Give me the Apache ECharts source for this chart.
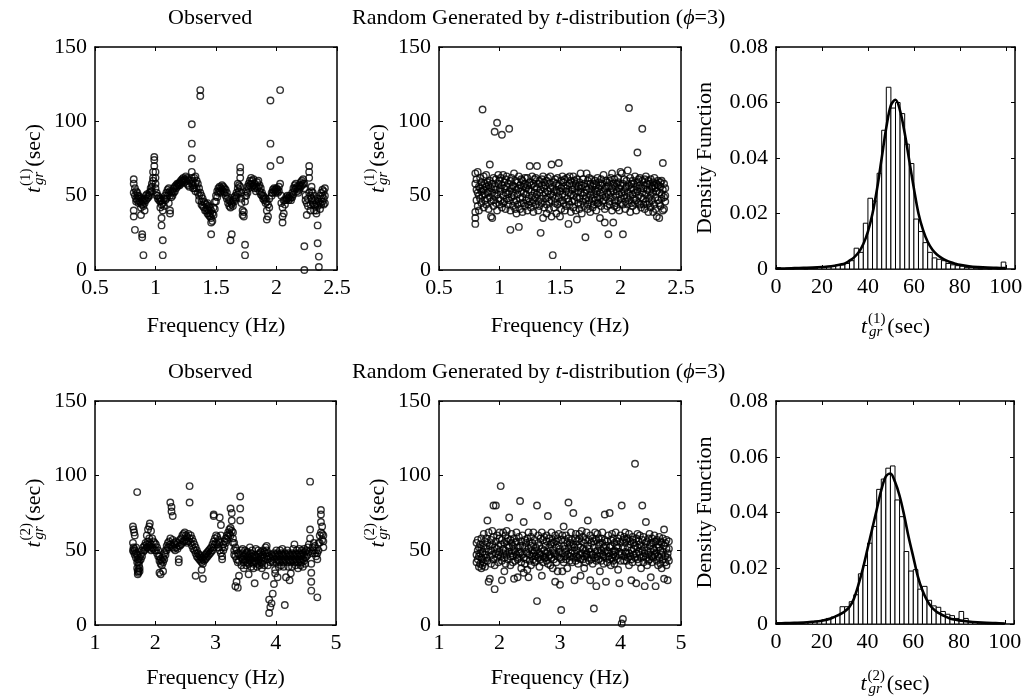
<!DOCTYPE html>
<html><head><meta charset="utf-8">
<script src="https://cdn.jsdelivr.net/npm/echarts@6/dist/echarts.min.js"></script>
<style>html,body{margin:0;padding:0;background:#fff}#c{width:1030px;height:698px}</style>
</head><body><div id="c"></div>
<script>
// ---------------- DATA ----------------
// Observed t_gr^(1) vs frequency: rows are [frequency, value, value, ...]
const observed1 = [
[0.82,61,58,52,40,36],[0.83,55,50,27],[0.84,53,48,46],[0.85,52,50,47],[0.86,50,48,45],[0.87,49,46],
[0.88,48,45,42,37],[0.89,47,44,24,22],[0.90,46,43,10],[0.91,48,45,40],[0.92,50,47],[0.93,51,48],
[0.94,50,49],[0.95,52,50],[0.96,53,55],[0.97,58,56,53],[0.98,62,66,60],[0.99,76,74,70],
[1.00,66,62,58,55],[1.01,52,50],[1.02,50,48],[1.03,49,47],[1.04,48,46,42],[1.05,47,44,35,30],
[1.06,45,40,20,10],[1.07,48,43],[1.08,50,47],[1.09,52,48],[1.10,54,50],[1.11,55,52,45],
[1.12,53,50,40,38],[1.13,52,49],[1.14,53,50],[1.15,55,52],[1.16,56,53],[1.17,57,55],[1.18,58,56],
[1.19,58,57],[1.20,59,57],[1.21,60,58],[1.22,61,59],[1.23,62,60],[1.24,61,59],[1.25,63,60],
[1.26,62,58],[1.27,61,57],[1.28,60,56],[1.30,98,85,75,66,62,58],[1.31,60,57,55],[1.32,62,55],
[1.33,63,58,53],[1.34,60,55],[1.35,58,52],[1.36,55,50,47],[1.37,121,117,52],[1.38,50,46,44],
[1.39,48,43],[1.40,46,42],[1.41,45,40],[1.42,44,40],[1.43,45,41,38],[1.44,43,40,37],[1.45,42,38,36],
[1.46,40,35,32,24],[1.47,38,33],[1.48,42,37],[1.49,46,41],[1.50,50,46],[1.51,53,49],[1.52,55,52],
[1.53,56,53],[1.54,55,52],[1.55,57,54],[1.56,56,53],[1.57,55,52],[1.58,54,50],[1.59,52,48],
[1.60,49,45],[1.61,47,43],[1.62,46,42,20],[1.63,45,44,24],[1.64,47,43],[1.65,49,46],[1.66,50,48],
[1.67,52,49],[1.68,55,51,58],[1.69,57,53],[1.70,69,66,62,56],[1.71,52,48,45],[1.72,40,37],
[1.73,39,36],[1.74,17,10,50,46],[1.75,53,50],[1.76,56,52],[1.77,58,55],[1.78,60,57],[1.79,62,58],
[1.80,60,56],[1.81,61,57],[1.82,58,55],[1.83,56,53],[1.84,59,55],[1.85,60,56],[1.86,57,53],
[1.87,55,51],[1.88,52,50],[1.89,50,48],[1.90,49,47],[1.91,48,45],[1.92,46,40,34],[1.93,44,36],
[1.94,48,42],[1.95,114,85,70],[1.96,52,50],[1.97,54,52],[1.98,55,53],[1.99,54,52],[2.00,55,53],
[2.01,54,52],[2.02,56,53],[2.03,121,74,58],[2.04,50,45],[2.05,42,36,32],[2.06,38,47],[2.07,47,44],
[2.08,49,47],[2.09,50,48],[2.10,49,47],[2.11,50,48],[2.12,49,47],[2.13,52,49],[2.14,55,51],
[2.15,57,54],[2.16,58,55],[2.17,56,53],[2.18,55,52],[2.19,57,54],[2.20,59,56],[2.21,60,57],
[2.22,61,58],[2.23,58,55,16,0],[2.24,50,47],[2.25,45,37],[2.26,48,43],[2.27,70,66,62,52],
[2.28,50,44,40],[2.29,56,53,48],[2.30,52,47,45],[2.31,50,44,40],[2.32,47,43],[2.33,45,40,38],
[2.34,48,43,30,18],[2.35,46,9,2],[2.36,50,45,41],[2.37,52,48,44],[2.38,54,50,46],[2.39,53,48,44],
[2.40,55,50,45]
];
// Random (t-distribution) t_gr^(1)
const random1 = [
[0.80,58,65,39,35,31],[0.81,54,47,61],[0.82,66,52,43],[0.83,56,40,50],[0.84,48,62,55],[0.85,53,45,59],
[0.86,108,57,50],[0.87,63,42,54],[0.88,47,58,51],[0.89,64,44,56],[0.90,52,59,48],[0.91,57,41,53],
[0.92,71,49,60],[0.93,55,36,46],[0.94,35,52,58],[0.95,62,47,43],[0.96,93,56,50],[0.97,54,45,61],
[0.98,99,51,40],[0.99,58,48,64],[1.00,44,55,60],[1.01,53,62,47],[1.02,91,57,42],[1.03,50,64,45],
[1.04,46,55,59],[1.05,61,52,41],[1.06,56,48,63],[1.07,44,58,51],[1.08,95,53,47],[1.09,27,60,40],
[1.10,49,55,62],[1.11,57,43,52],[1.12,65,50,46],[1.13,41,56,60],[1.14,54,47,38],[1.15,59,51,44],
[1.16,29,63,55],[1.17,48,57,41],[1.18,53,45,61],[1.19,60,49,39],[1.20,45,56,52],[1.21,62,43,58],
[1.22,51,47,55],[1.23,57,40,62],[1.24,48,54,44],[1.25,70,59,46],[1.26,53,42,57],[1.27,63,50,45],
[1.28,47,58,39],[1.29,56,52,61],[1.30,44,62,49],[1.31,70,55,51],[1.32,58,46,40],[1.33,52,60,43],
[1.34,25,54,48],[1.35,61,45,57],[1.36,35,50,63],[1.37,55,42,59],[1.38,48,57,52],[1.39,60,44,38],
[1.40,53,49,62],[1.41,46,58,41],[1.42,63,51,55],[1.43,71,47,36],[1.44,10,56,50],[1.45,59,42,53],
[1.46,48,61,45],[1.47,54,38,58],[1.48,44,52,62],[1.49,72,57,49],[1.50,36,53,46],[1.51,60,41,55],
[1.52,47,63,51],[1.53,56,45,59],[1.54,50,61,40],[1.55,43,55,53],[1.56,62,48,57],[1.57,31,52,46],
[1.58,58,44,63],[1.59,51,60,39],[1.60,46,54,57],[1.61,63,50,42],[1.62,55,47,60],[1.63,40,58,52],
[1.64,34,61,49],[1.65,53,45,56],[1.66,48,59,41],[1.67,65,52,44],[1.68,57,38,55],[1.69,46,61,50],
[1.70,52,43,58],[1.71,22,56,48],[1.72,65,49,54],[1.73,44,60,41],[1.74,55,47,62],[1.75,50,58,39],
[1.76,61,45,53],[1.77,42,56,48],[1.78,58,51,44],[1.79,47,60,54],[1.80,53,40,57],[1.81,62,49,45],
[1.82,45,55,59],[1.83,35,52,48],[1.84,57,43,61],[1.85,50,58,46],[1.86,64,47,53],[1.87,32,55,41],
[1.88,56,49,60],[1.89,43,59,52],[1.90,24,51,57],[1.91,60,46,44],[1.92,52,62,49],[1.93,65,40,55],
[1.94,32,53,58],[1.95,47,61,43],[1.96,56,50,45],[1.97,42,58,53],[1.98,59,47,62],[1.99,51,55,40],
[2.00,66,45,57],[2.01,65,52,48],[2.02,24,58,44],[2.03,53,61,50],[2.04,46,55,41],[2.05,60,49,56],
[2.06,67,44,52],[2.07,109,57,47],[2.08,50,62,39],[2.09,55,45,58],[2.10,43,60,51],[2.11,58,48,54],
[2.12,52,63,45],[2.13,47,56,40],[2.14,79,53,59],[2.15,61,45,50],[2.16,44,57,62],[2.17,55,49,42],
[2.18,95,60,52],[2.19,48,55,44],[2.20,57,41,61],[2.21,51,63,46],[2.22,44,54,58],[2.23,60,48,39],
[2.24,53,58,45],[2.25,42,61,50],[2.26,56,47,55],[2.27,39,59,52],[2.28,62,44,57],[2.29,49,55,41],
[2.30,36,58,53],[2.31,57,47,60],[2.32,35,52,45],[2.33,59,43,56],[2.34,48,60,51],[2.35,72,54,40],
[2.36,41,49,58],[2.37,50,46,55]
];
// Observed t_gr^(2)
const observed2 = [
[1.63,66,55,50],[1.64,64,52,49],[1.65,62,51],[1.66,60,50,47],[1.68,52,48,45],[1.70,89,47,42,38],
[1.71,44,36,34],[1.72,42,37,35],[1.73,45,40],[1.74,43,38,36],[1.76,47,44],[1.78,50,46],[1.80,52,49],
[1.82,53,50],[1.84,55,51],[1.86,54,52,60],[1.88,56,52,64],[1.90,66,58,53],[1.91,68,55,51],
[1.93,63,54,50],[1.95,58,52],[1.97,56,51],[1.99,55,50],[2.01,54,50],[2.03,52,48],[2.05,50,46],
[2.07,46,43,35],[2.09,44,41,34],[2.11,43,40],[2.13,45,42,36],[2.15,48,44],[2.17,50,47],[2.19,53,50],
[2.21,55,52],[2.23,56,52],[2.25,82,58,54],[2.27,79,76,53],[2.29,73,57,52],[2.31,55,51],[2.33,54,50],
[2.35,56,52],[2.37,55,51],[2.39,44,42,53],[2.41,57,53],[2.43,58,54],[2.45,60,55],[2.47,61,56],
[2.49,62,57],[2.51,60,56],[2.53,59,55],[2.55,61,56],[2.57,93,82,58],[2.59,60,55],[2.61,58,53],
[2.63,56,51],[2.65,54,50],[2.67,52,48,33],[2.69,50,46],[2.71,48,45],[2.73,47,44],[2.75,46,43],
[2.77,45,42,37],[2.79,44,41,31],[2.81,46,43],[2.83,47,44],[2.85,48,45],[2.87,49,46],[2.89,50,47],
[2.91,51,48],[2.93,52,49],[2.95,54,50],[2.97,74,73,56,52],[2.99,58,54],[3.01,60,55],[3.03,59,54],
[3.05,57,52],[3.07,72,55,50],[3.09,67,60,48],[3.11,44,46,52],[3.13,50,54],[3.15,52,56],[3.17,55,58],
[3.19,57,60],[3.21,59,62],[3.23,61,64],[3.25,78,65,60],[3.27,75,70,63],[3.29,62,58,55],[3.31,55,50,47],
[3.33,52,46,26],[3.35,50,44,29],[3.37,48,42,25],[3.39,47,43,33],[3.41,86,78,70],[3.43,50,45,40],
[3.45,48,44,51],[3.47,46,42,38],[3.49,47,43,50],[3.51,48,44,40],[3.53,46,42,49],[3.55,45,41,34],
[3.57,47,43,52],[3.59,48,44,39],[3.61,46,42,50],[3.63,45,41,38],[3.65,47,43,28],[3.67,46,42,51],
[3.69,45,41,39],[3.71,47,43,50],[3.73,48,44,40],[3.75,46,42,49],[3.77,45,41,38],[3.79,47,43,50],
[3.81,49,45,40],[3.83,52,48,33],[3.85,50,46,53],[3.87,48,44,40],[3.89,46,8,17],[3.91,45,12,42],
[3.93,47,14.5,43],[3.95,46,21,42],[3.97,48,27.5,44],[3.99,47,34.6,37],[4.01,46,42,50],[4.03,48,44,32],
[4.05,47,43,39],[4.07,46,42,50],[4.09,48,44,40],[4.11,47,43,51],[4.13,46,42,39],[4.15,48,13.4,44],
[4.17,47,32,43],[4.19,46,42,50],[4.21,48,44,39],[4.23,47,43,30],[4.25,46,42,34.6],[4.27,48,44,39],
[4.29,47,43,51],[4.31,54,46,42],[4.33,48,44,40],[4.35,47,43,50],[4.37,46,42,38],[4.39,48,44,51],
[4.41,47,43,40],[4.43,46,42,50],[4.45,48,44,39],[4.47,47,43,51],[4.49,49,45,41],[4.51,50,46],
[4.53,52,47],[4.55,54,49],[4.57,96,64,58],[4.59,41,35,29,23],[4.61,52,48],[4.63,55,50],[4.65,53,48],
[4.67,50,46],[4.69,48,44,18.5],[4.71,55,50],[4.73,60,55],[4.75,77,74,69,62],[4.77,66,61,57],
[4.79,60,56,52]
];
// Random (t-distribution) t_gr^(2)
const random2 = [
[1.62,47,55,42],[1.64,57,50,44],[1.66,52,39,46],[1.68,41,48,54],[1.70,38,45,51,58],[1.72,40,49,44],
[1.74,53,42,61],[1.76,47,56,39],[1.78,45,51,58],[1.80,70,43,55],[1.82,29,49,62],[1.84,31,53,46],
[1.86,57,41,50],[1.88,63,47,54],[1.90,80,44,59],[1.92,24,52,40],[1.94,80,48,56],[1.96,45,60,51],
[1.98,53,42,47],[2.00,58,49,62],[2.02,93,46,54],[2.04,30,57,43],[2.06,51,62,48],[2.08,36,45,55],
[2.10,60,50,41],[2.12,47,56,63],[2.14,53,44,58],[2.16,72,49,52],[2.18,40,57,46],[2.20,55,48,61],
[2.22,46,53,42],[2.24,31,58,50],[2.26,49,43,55],[2.28,56,47,62],[2.30,32,52,44],[2.32,45,59,49],
[2.34,83,48,53],[2.36,56,42,38],[2.38,47,53,60],[2.40,69,35,45],[2.42,52,57,41],[2.44,44,49,55],
[2.46,58,37,48],[2.48,32,51,62],[2.50,47,56,43],[2.52,53,40,59],[2.54,46,55,50],[2.56,62,44,48],
[2.58,49,57,42],[2.60,43,52,46],[2.62,80,16,50],[2.64,55,45,60],[2.66,48,39,53],[2.68,44,58,47],
[2.70,33,51,62],[2.72,57,46,42],[2.74,50,59,45],[2.76,45,53,48],[2.78,60,43,56],[2.80,73,49,41],
[2.82,52,58,46],[2.84,47,40,54],[2.86,55,62,45],[2.88,38,50,57],[2.90,44,55,48],[2.92,29,47,60],
[2.94,56,42,52],[2.96,36,58,46],[2.98,49,53,61],[3.00,27,45,51],[3.02,10,57,44],[3.04,60,48,36],
[3.06,66,42,53],[3.08,51,57,46],[3.10,44,49,60],[3.12,55,38,47],[3.14,82,52,58],[3.16,46,55,43],
[3.18,53,48,62],[3.20,42,57,50],[3.22,75,45,54],[3.24,30,52,48],[3.26,58,43,61],[3.28,50,56,46],
[3.30,45,53,41],[3.32,61,47,58],[3.34,33,52,44],[3.36,56,48,63],[3.38,44,59,51],[3.40,38,46,55],
[3.42,57,50,42],[3.44,48,62,47],[3.46,70,53,45],[3.48,43,57,51],[3.50,30,49,60],[3.52,55,44,47],
[3.54,47,58,41],[3.56,11,52,56],[3.58,62,45,49],[3.60,26,57,43],[3.62,50,61,46],[3.64,44,53,58],
[3.66,36,48,55],[3.68,58,43,50],[3.70,47,55,62],[3.72,52,41,46],[3.74,74,49,57],[3.76,29,45,53],
[3.78,56,50,42],[3.80,48,60,46],[3.82,75,44,52],[3.84,53,57,40],[3.86,45,49,61],[3.88,58,47,43],
[3.90,41,55,50],[3.92,49,62,46],[3.94,56,44,53],[3.96,37,52,58],[3.98,28,47,49],[4.00,60,43,55],
[4.02,80,1,48],[4.04,52,4,57],[4.06,46,59,43],[4.08,55,49,62],[4.10,43,57,48],[4.12,58,45,52],
[4.14,48,61,40],[4.16,54,46,56],[4.18,30,50,44],[4.20,57,42,59],[4.22,47,55,51],[4.24,108,45,53],
[4.26,28,58,48],[4.28,52,44,61],[4.30,49,56,42],[4.32,60,47,54],[4.34,45,53,38],[4.36,80,50,57],
[4.38,42,59,46],[4.40,26,52,48],[4.42,69,45,55],[4.44,56,40,50],[4.46,47,58,43],[4.48,53,44,61],
[4.50,32,49,55],[4.52,58,46,42],[4.54,45,55,51],[4.56,50,60,47],[4.58,26,48,56],[4.60,57,43,52],
[4.62,46,54,40],[4.64,52,59,45],[4.66,41,50,56],[4.68,55,47,38],[4.70,49,58,44],[4.72,64,31,53],
[4.74,46,55,42],[4.76,51,40,57],[4.78,30,48,45],[4.80,56,43,51]
];
// Histogram bins (left edge), width 2 sec
const binStarts = [0,2,4,6,8,10,12,14,16,18,20,22,24,26,28,30,32,34,36,38,40,42,44,46,48,50,52,54,56,58,
  60,62,64,66,68,70,72,74,76,78,80,82,84,86,88,90,92,94,96,98];
const binWidth = 2;
const hist1 = [0.0005,0,0.0003,0,0.0003,0.0005,0,0.0005,0.0003,0.0005,
  0.0005,0.0008,0.001,0.0015,0.0015,0.002,0.003,0.0075,0.006,0.0165,
  0.0255,0.0245,0.0345,0.05,0.0655,0.058,0.06,0.056,0.045,0.038,
  0.018,0.0135,0.0095,0.006,0.004,0.0035,0.003,0.002,0.0015,0.0012,
  0.001,0.0005,0.0005,0.0003,0,0.0003,0,0.0003,0,0.0025];
const hist2 = [0.0005,0.0003,0.0003,0.0003,0.0003,0.0003,0.0005,0.0005,0.0008,0.001,
  0.0015,0.002,0.0025,0.003,0.0062,0.0062,0.008,0.0105,0.018,0.021,
  0.029,0.035,0.0483,0.052,0.0559,0.0567,0.0445,0.0385,0.026,0.019,
  0.0195,0.0125,0.0135,0.0085,0.0065,0.006,0.0045,0.0035,0.003,0.002,
  0.0045,0.002,0.0008,0.0005,0.0003,0.0003,0.0002,0.0002,0.0002,0.0002];
// Fitted density curves
const curveX = [0,4,8,12,16,20,24,28,30,32,34,36,38,40,42,44,46,48,50,52,54,56,58,60,62,64,66,68,70,
  72,74,76,78,80,84,88,92,96,100];
const curve1 = [0.0002,0.0002,0.0003,0.0004,0.0005,0.0007,0.001,0.0016,0.002,0.003,0.0042,0.006,0.009,0.0135,
  0.02,0.029,0.04,0.051,0.059,0.061,0.057,0.049,0.039,0.029,0.02,0.014,0.0098,0.007,0.0052,
  0.004,0.0031,0.0024,0.0019,0.0015,0.001,0.0007,0.0005,0.0004,0.0003];
const curve2 = [0.0002,0.0003,0.0004,0.0005,0.0008,0.0012,0.002,0.0035,0.0045,0.006,0.009,0.014,0.02,0.027,
  0.034,0.041,0.048,0.053,0.054,0.051,0.046,0.039,0.031,0.024,0.017,0.012,0.0085,0.006,0.0045,
  0.0035,0.0027,0.002,0.0016,0.0013,0.0009,0.0006,0.0004,0.0003,0.0002];

// ---------------- BUILD ----------------
const FONT = '"Liberation Serif","Times New Roman",serif';
const FS = 22;
const BLACK = '#000';

function toPairs(rows){const out=[];rows.forEach(r=>{for(let k=1;k<r.length;k++)out.push([r[0],r[k]]);});return out;}
function bins(vals){return binStarts.map((s,i)=>[s,s+binWidth,vals[i]]);}
function curve(vals){return curveX.map((x,i)=>[x,vals[i]]);}

const richBase = {
  t:{fontFamily:FONT,fontSize:FS,fontStyle:'italic',color:BLACK,align:'left'},
  sup:{fontFamily:FONT,fontSize:15,color:BLACK,width:1,align:'left',padding:[0,0,15,1]},
  sub:{fontFamily:FONT,fontSize:15,fontStyle:'italic',color:BLACK,align:'left',padding:[11,5,0,0]},
  n:{fontFamily:FONT,fontSize:FS,color:BLACK,align:'left'}
};
function tgr(k){return '{t|t}{sup|('+k+')}{sub|gr}{n|(sec)}';}

const grids = [
  {left:95,top:47,width:242,height:223},
  {left:439,top:47,width:242,height:223},
  {left:776,top:47,width:239,height:222},
  {left:95,top:401,width:241,height:224},
  {left:439,top:401,width:242,height:224},
  {left:776,top:401,width:238,height:223}
];

const xAxes=[], yAxes=[];
function baseAxis(gi,min,max,interval){
  return {type:'value',gridIndex:gi,min,max,interval,splitLine:{show:false},
    axisLine:{show:true,onZero:false,lineStyle:{color:BLACK,width:1.5}},
    axisTick:{show:true,inside:true,length:4,lineStyle:{color:BLACK,width:1}}};
}
function addAxes(gi,xc,yc){
  const xm=baseAxis(gi,xc.min,xc.max,xc.interval);
  Object.assign(xm,{position:'bottom',
    axisLabel:{show:true,color:BLACK,fontFamily:FONT,fontSize:FS,margin:7,formatter:xc.fmt},
    name:xc.name,nameLocation:'middle',nameGap:xc.gap,
    nameTextStyle:{color:BLACK,fontFamily:FONT,fontSize:FS,rich:richBase}});
  const xt=baseAxis(gi,xc.min,xc.max,xc.interval);
  Object.assign(xt,{position:'top',axisLabel:{show:false}});
  const ym=baseAxis(gi,yc.min,yc.max,yc.interval);
  Object.assign(ym,{position:'left',
    axisLabel:{show:true,color:BLACK,fontFamily:FONT,fontSize:FS,margin:8,formatter:yc.fmt},
    name:yc.name,nameLocation:'middle',nameRotate:90,nameGap:yc.gap,
    nameTextStyle:{color:BLACK,fontFamily:FONT,fontSize:FS,rich:richBase}});
  const yr=baseAxis(gi,yc.min,yc.max,yc.interval);
  Object.assign(yr,{position:'right',axisLabel:{show:false}});
  xAxes.push(xm,xt); yAxes.push(ym,yr);
  return {x:xAxes.length-2,y:yAxes.length-2};
}
const densFmt = v => v===0 ? '0' : v.toFixed(2);
const histXFmt = v => (v%20===0 && v<=100) ? String(v) : '';

const ax = [
  addAxes(0,{min:0.5,max:2.5,interval:0.5,name:'Frequency (Hz)',gap:45},{min:0,max:150,interval:50,name:tgr(1),gap:46}),
  addAxes(1,{min:0.5,max:2.5,interval:0.5,name:'Frequency (Hz)',gap:45},{min:0,max:150,interval:50,name:tgr(1),gap:46}),
  addAxes(2,{min:0,max:104,interval:20,fmt:histXFmt,name:tgr(1),gap:43},{min:0,max:0.08,interval:0.02,fmt:densFmt,name:'Density Function',gap:60}),
  addAxes(3,{min:1,max:5,interval:1,name:'Frequency (Hz)',gap:42},{min:0,max:150,interval:50,name:tgr(2),gap:46}),
  addAxes(4,{min:1,max:5,interval:1,name:'Frequency (Hz)',gap:42},{min:0,max:150,interval:50,name:tgr(2),gap:46}),
  addAxes(5,{min:0,max:104,interval:20,fmt:histXFmt,name:tgr(2),gap:45},{min:0,max:0.08,interval:0.02,fmt:densFmt,name:'Density Function',gap:60})
];

function scatter(i,rows){
  return {type:'scatter',xAxisIndex:ax[i].x,yAxisIndex:ax[i].y,data:toPairs(rows),symbol:'circle',symbolSize:6.5,
    clip:false,silent:true,itemStyle:{color:'rgba(0,0,0,0)',borderColor:BLACK,borderWidth:1.4}};
}
function histo(i,vals){
  return {type:'custom',xAxisIndex:ax[i].x,yAxisIndex:ax[i].y,data:bins(vals),encode:{x:[0,1],y:2},silent:true,
    renderItem:function(params,api){
      const a=api.coord([api.value(0),api.value(2)]);
      const b=api.coord([api.value(1),0]);
      return {type:'rect',shape:{x:a[0],y:a[1],width:b[0]-a[0],height:b[1]-a[1]},
        style:{fill:'#fff',stroke:BLACK,lineWidth:1}};
    }};
}
function line(i,vals){
  return {type:'line',xAxisIndex:ax[i].x,yAxisIndex:ax[i].y,data:curve(vals),smooth:0.35,symbol:'none',
    showSymbol:false,silent:true,z:5,lineStyle:{color:BLACK,width:2.6}};
}

const titleStyle = {fontFamily:FONT,fontSize:FS,fontWeight:'normal',color:BLACK,
  rich:{a:{fontFamily:FONT,fontSize:FS,color:BLACK},i:{fontFamily:FONT,fontSize:FS,fontStyle:'italic',color:BLACK}}};
const randTitle = '{a|Random Generated by }{i|t}{a|-distribution (}{i|ϕ}{a|=3)}';

const option = {
  animation:false,
  backgroundColor:'#fff',
  title:[
    {text:'Observed',left:168,top:7,padding:0,textStyle:titleStyle},
    {text:randTitle,left:352,top:7,padding:0,textStyle:titleStyle},
    {text:'Observed',left:168,top:361,padding:0,textStyle:titleStyle},
    {text:randTitle,left:352,top:361,padding:0,textStyle:titleStyle}
  ],
  grid:grids,
  xAxis:xAxes,
  yAxis:yAxes,
  series:[
    scatter(0,observed1), scatter(1,random1),
    histo(2,hist1), line(2,curve1),
    scatter(3,observed2), scatter(4,random2),
    histo(5,hist2), line(5,curve2)
  ]
};
const chart = echarts.init(document.getElementById('c'),null,{renderer:'canvas'});
chart.setOption(option);
</script></body></html>
